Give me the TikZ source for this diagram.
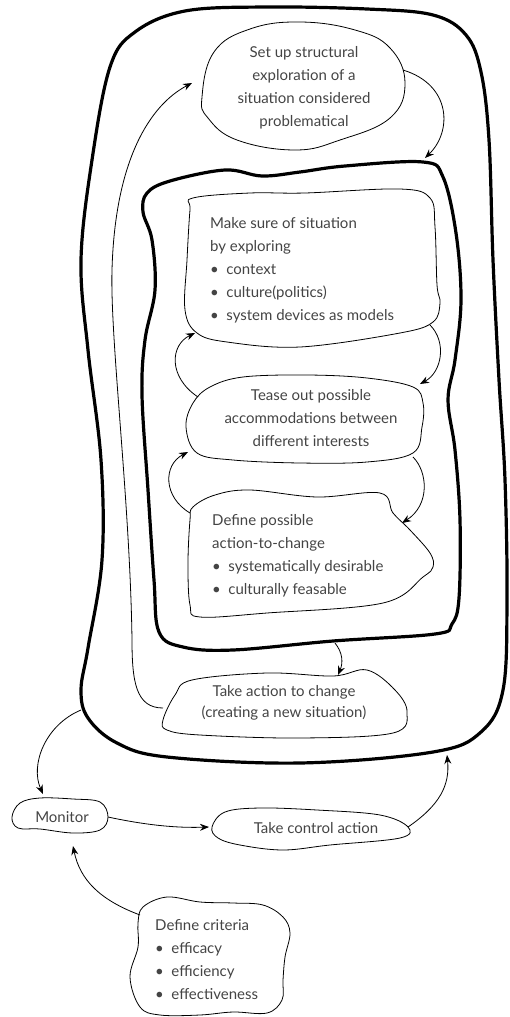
\documentclass[tikz,border=0pt]{standalone}
\usepackage{fontspec}
\setmainfont{Lato}
\usetikzlibrary{arrows.meta}
\definecolor{inkgray}{HTML}{444444}
\begin{document}
\begin{tikzpicture}[x=1pt,y=-1pt,
  boundary/.style={line width=3.2pt,line join=round},
  blob/.style={line width=0.8pt,line join=round},
  flow/.style={line width=0.8pt,-{Stealth[length=9pt,width=7pt]}},
  label/.style={inner sep=0pt,text=inkgray,font=\fontsize{15}{23}\selectfont},
  centred/.style={label,align=center},
  listed/.style={label,align=left,anchor=west}]
\useasboundingbox (0,0) rectangle (509,1017);

% the whole learning cycle
\draw[boundary] plot[smooth cycle,tension=0.6] coordinates {
  (110,67) (135,32) (185,11) (267,7) (367,9) (433,15) (466,35) (481,72)
  (489,140) (493,260) (499,380) (505,480) (507,600) (503,690) (481,732)
  (433,752) (300,763) (167,757) (117,743) (88,718) (81,690) (88,648)
  (102,560) (101,460) (88,350) (81,260) (92,160)};

% the inner inquiry loop
\draw[boundary] plot[smooth cycle,tension=0.6] coordinates {
  (147,193) (170,181) (225,170) (262,176) (300,172) (345,166) (423,162)
  (443,177) (456,233) (461,300) (455,360) (448,400) (455,450) (460,520)
  (459,598) (452,624) (435,634) (333,641) (233,650) (183,647) (159,632)
  (154,580) (148,490) (142,395) (145,340) (155,290) (152,240) (143,212)};

% activity outlines
\draw[blob] plot[smooth cycle,tension=0.7] coordinates {
  (202,97) (214,52) (250,29) (300,22) (355,30) (390,48) (405,83)
  (390,118) (340,140) (295,150) (237,140) (208,118)};
\draw[blob] plot[smooth cycle,tension=0.6] coordinates {
  (193,198) (250,193) (305,193) (400,189) (430,198)
  (435,227) (437,285) (440,303) (433,322) (400,333) (300,347) (227,342)
  (197,333) (185,310) (187,260) (190,210)};
\draw[blob] plot[smooth cycle,tension=0.6] coordinates {
  (243,377) (307,375) (367,378) (413,387) (423,403) (422,427) (413,453)
  (367,462) (300,463) (233,460) (197,453) (186,427) (193,403) (210,387)};
\draw[blob] plot[smooth cycle,tension=0.6] coordinates {
  (193,507) (215,495) (250,490) (317,497) (380,493) (393,513) (410,530)
  (430,553) (433,567) (423,577) (383,603) (267,613) (200,617) (190,605)
  (188,563) (190,520)};
\draw[blob] plot[smooth cycle,tension=0.6] coordinates {
  (163,720) (175,695) (192,680) (267,673) (333,676) (367,670) (395,690)
  (407,712) (393,733) (300,738) (200,735) (167,730)};
\draw[blob] plot[smooth cycle,tension=0.6] coordinates {
  (12,817) (20,803) (40,798) (73,799) (100,802) (108,817) (100,830)
  (73,833) (40,829) (18,828)};
\draw[blob] plot[smooth cycle,tension=0.6] coordinates {
  (212,827) (225,812) (260,808) (317,810) (380,815) (408,827) (400,838)
  (330,845) (283,850) (240,845) (218,838)};
\draw[blob] plot[smooth cycle,tension=0.6] coordinates {
  (167,897) (200,902) (233,903) (263,905) (283,917) (290,933) (285,957)
  (283,980) (282,1000) (267,1013) (233,1012) (200,1015) (160,1015)
  (140,1007) (130,977) (138,947) (138,923) (143,907)};

% texts
\node[centred] (setup) at (304,88)
  {Set up structural\\exploration of a\\situation considered\\problematical};
\node[listed] (explore) at (210,270)
  {Make sure of situation\\by exploring\\
   \textbullet\enspace context\\
   \textbullet\enspace culture(politics)\\
   \textbullet\enspace system devices as models};
\node[centred] (tease) at (311,418)
  {Tease out possible\\accommodations between\\different interests};
\node[listed] (define) at (212,556)
  {Define possible\\action-to-change\\
   \textbullet\enspace systematically desirable\\
   \textbullet\enspace culturally feasable};
\node[centred,font=\fontsize{15}{21}\selectfont] (act) at (284,703)
  {Take action to change\\(creating a new situation)};
\node[centred] (monitor) at (62,817) {Monitor};
\node[centred] (control) at (316,828) {Take control action};
\node[listed] (criteria) at (155,960)
  {Define criteria\\
   \textbullet\enspace efficacy\\
   \textbullet\enspace efficiency\\
   \textbullet\enspace effectiveness};

% attachment points on the outlines
\coordinate (setupE)    at (403,70);
\coordinate (innerTop)  at (425,158);
\coordinate (setupW)    at (192,83);
\coordinate (actW)      at (163,708);
\coordinate (exploreSE) at (430,325);
\coordinate (exploreSW) at (195,333);
\coordinate (teaseNE)   at (420,384);
\coordinate (teaseNW)   at (198,397);
\coordinate (teaseSE)   at (413,457);
\coordinate (teaseSW)   at (188,452);
\coordinate (defineNE)  at (402,523);
\coordinate (defineNW)  at (190,513);
\coordinate (innerBot)  at (335,643);
\coordinate (actN)      at (338,675);
\coordinate (outerW)    at (81,710);
\coordinate (monitorN)  at (43,794);
\coordinate (monitorE)  at (108,817);
\coordinate (monitorS)  at (73,846);
\coordinate (controlW)  at (209,827);
\coordinate (controlE)  at (408,827);
\coordinate (outerS)    at (447,755);
\coordinate (criteriaNW) at (140,915);

% connectors
\draw[flow] (setupE) .. controls (452,85) and (452,132) .. (innerTop);
\draw[flow] (actW) .. controls (136,708) and (132,682) .. (132,640)
  .. controls (130,500) and (110,340) .. (112,270)
  .. controls (115,160) and (150,105) .. (setupW);
\draw[flow] (exploreSE) .. controls (447,342) and (442,372) .. (teaseNE);
\draw[flow] (teaseNW) .. controls (168,377) and (170,345) .. (exploreSW);
\draw[flow] (teaseSE) .. controls (428,472) and (430,505) .. (defineNE);
\draw[flow] (defineNW) .. controls (163,497) and (163,465) .. (teaseSW);
\draw[flow] (innerBot) .. controls (343,653) and (343,663) .. (actN);
\draw[flow] (outerW) .. controls (45,725) and (30,765) .. (monitorN);
\draw[flow] (monitorE) .. controls (150,826) and (180,828) .. (controlW);
\draw[flow] (controlE) .. controls (440,805) and (450,785) .. (outerS);
\draw[flow] (criteriaNW) .. controls (100,900) and (80,880) .. (monitorS);
\end{tikzpicture}
\end{document}
